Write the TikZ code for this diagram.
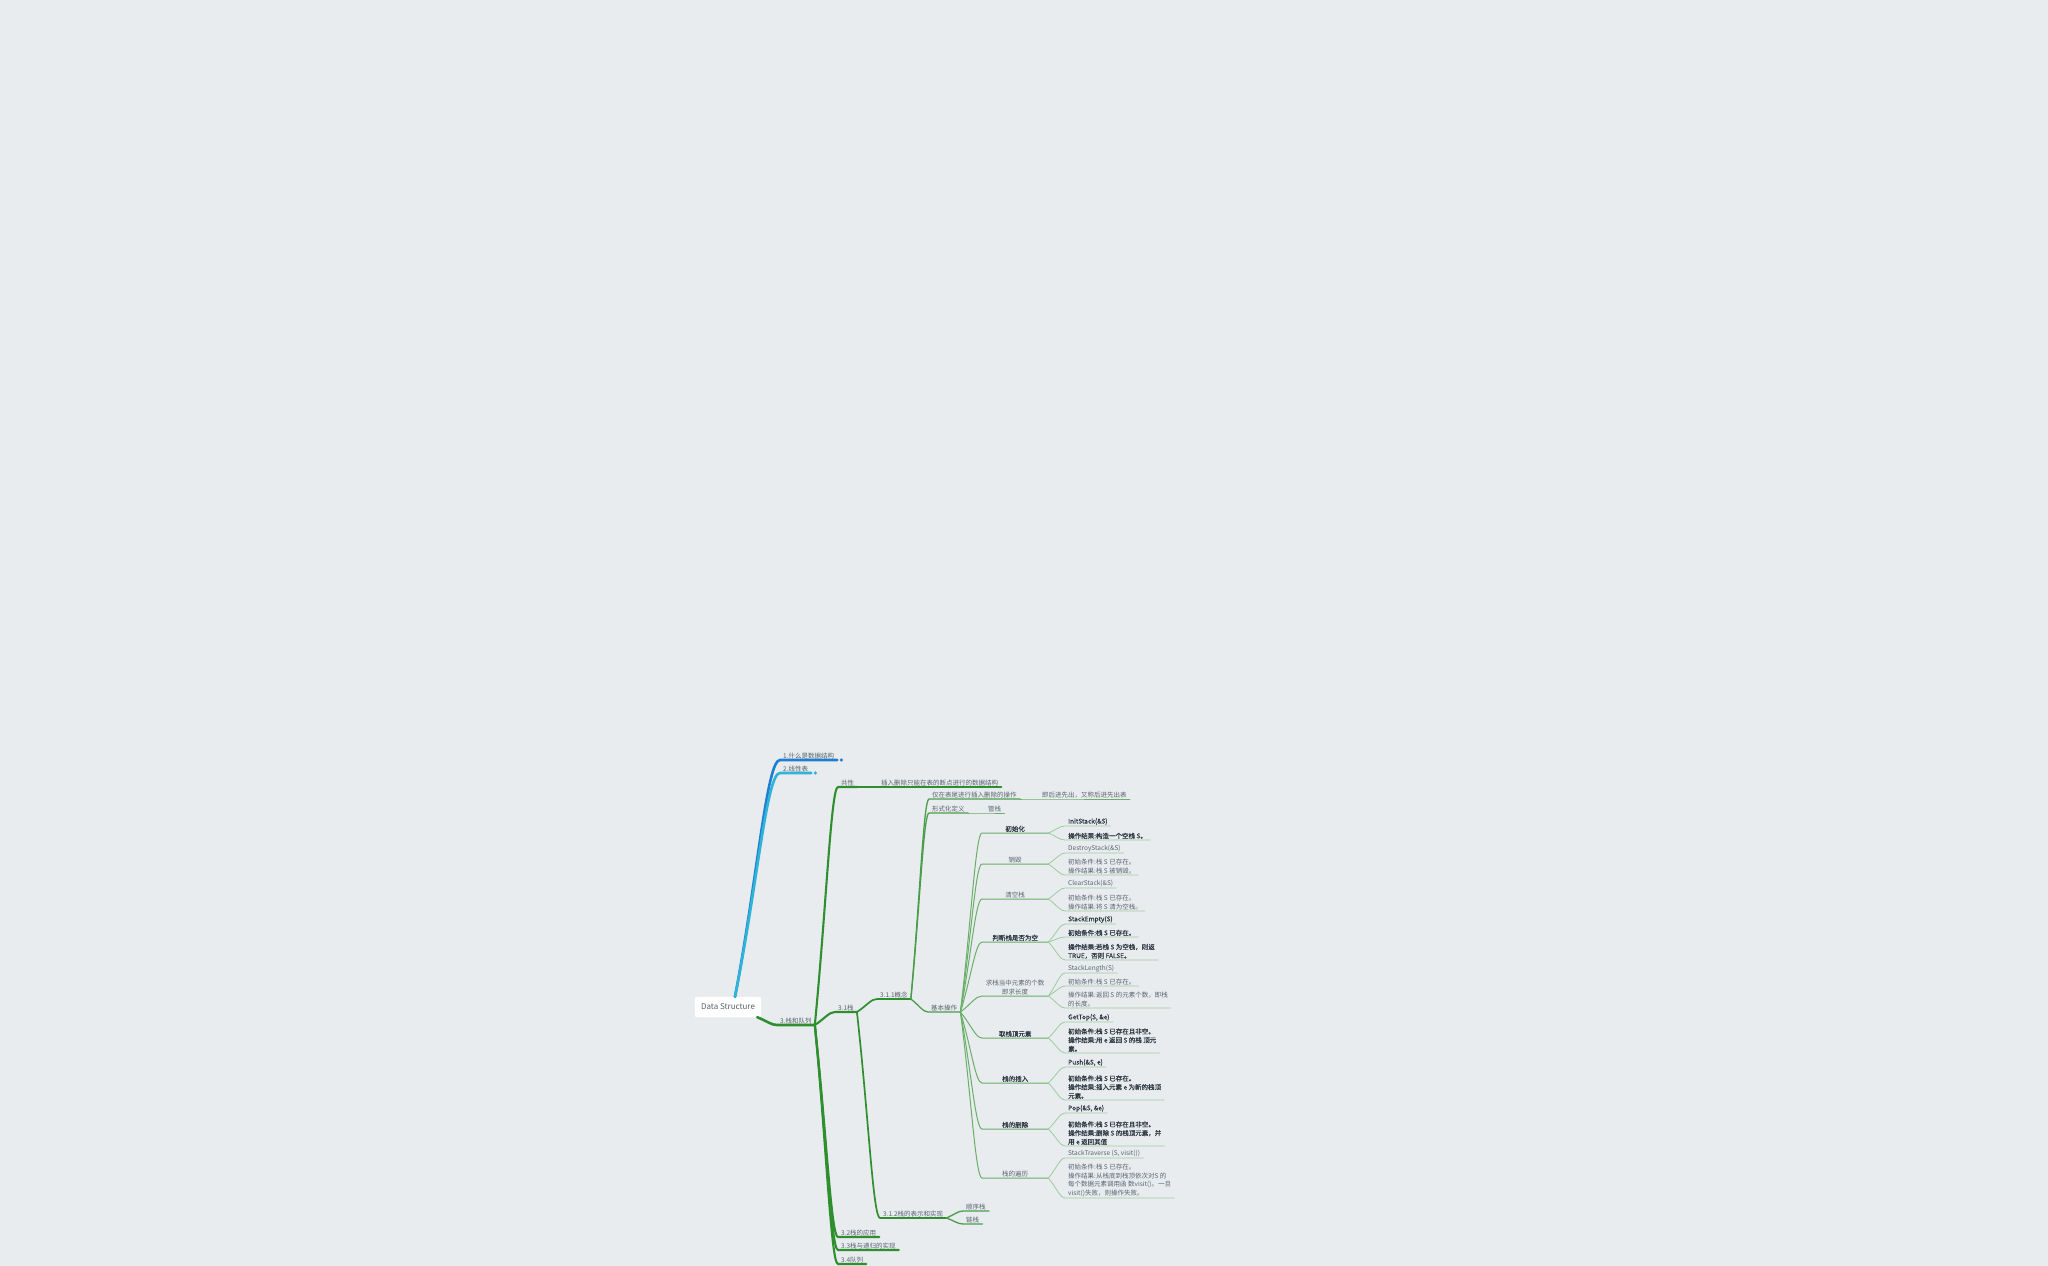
\documentclass[tikz,border=0pt]{standalone}
\usepackage{fontspec}
\setmainfont{Noto Sans CJK SC}
\newfontfamily\halfbold{Noto Sans CJK SC}[FakeBold=0.6]
\usetikzlibrary{calc}

\definecolor{bgcol}{HTML}{E8ECEF}
\definecolor{blueA}{HTML}{1E7FD0}
\definecolor{blueB}{HTML}{2FB3D9}
\definecolor{greenA}{HTML}{2F8F2F}
\definecolor{greenB}{HTML}{4A9E4A}
\definecolor{greenC}{HTML}{6AAE6A}
\definecolor{greenD}{HTML}{9DCB9D}
\definecolor{txtgray}{HTML}{58636E}
\definecolor{txtdark}{HTML}{2E3842}

\begin{document}
\begin{tikzpicture}[
  x=1pt, y=-1pt,
  topic/.style={anchor=south west, inner xsep=3pt, inner ysep=1pt, align=left,
    text=txtgray, font=\fontsize{6.5}{8.7}\selectfont},
  strong/.style={topic, text=txtdark, font=\fontsize{6.5}{8.7}\selectfont\halfbold},
  opbox/.style={topic, minimum width=66pt, align=center},
  rootbox/.style={draw=white, fill=white, rounded corners=2pt, minimum width=66pt,
    minimum height=20pt, text=txtgray, font=\fontsize{8}{9}\selectfont},
  branch/.style={to path={.. controls ($(\tikztostart)!0.5!(\tikztotarget)$)
    and ($(\tikztotarget)!0.3!(\tikztostart |- \tikztotarget)$) .. (\tikztotarget)}},
  mainline/.style={branch, line width=2.6pt, line cap=round},
  lvltwo/.style={branch, draw=greenA, line width=2.1pt, line cap=round},
  lvlthree/.style={branch, draw=greenA, line width=1.7pt, line cap=round},
  lvlfour/.style={branch, draw=greenB, line width=1.3pt, line cap=round},
  lvlfive/.style={branch, draw=greenC, line width=1pt, line cap=round},
  leafline/.style={branch, draw=greenD, line width=0.8pt, line cap=round}
]
\useasboundingbox[fill=bgcol] (0,0) rectangle (2048,1266);

% Root
\node[rootbox] (root) at (728,1007) {Data Structure};
\coordinate (roottop) at ([xshift=7pt]root.north);
\coordinate (rootout) at ([xshift=-4pt]root.south east);

% 1. First level
\node[topic] (what) at (780,760) {1.什么是数据结构};
\node[topic] (linear) at (780,773) {2.线性表};
\node[topic] (stackqueue) at (777,1025) {3.栈和队列};

% 2. Stack and queue
\node[topic] (common) at (838,787) {共性};
\node[topic] (stack) at (835,1012) {3.1栈};
\node[topic] (app) at (838,1237) {3.2栈的应用};
\node[topic] (recur) at (838,1250) {3.3栈与递归的实现};
\node[topic] (queue) at (838,1264) {3.4队列};

\node[topic] (endpoint) at (878,787) {插入删除只能在表的断点进行的数据结构};
\node[topic] (concept) at (877,999) {3.1.1概念};
\node[topic] (impl) at (880,1218) {3.1.2栈的表示和实现};

% 3. Concept
\node[topic] (tailop) at (929,799) {仅在表尾进行插入删除的操作};
\node[topic] (lifo) at (1039,799) {即后进先出，又称后进先出表};
\node[topic] (formal) at (929,813) {形式化定义};
\node[topic] (tube) at (985,813) {管栈};
\node[topic] (basic) at (928,1012) {基本操作};
\node[topic] (seqstack) at (963,1211) {顺序栈};
\node[topic] (linkstack) at (963,1224) {链栈};

% 4. Basic operations
\node[opbox, strong] (init) at (982,833) {初始化};
\node[opbox] (destroy) at (982,864) {销毁};
\node[opbox] (clear) at (982,899) {清空栈};
\node[opbox, strong] (isempty) at (982,942) {判断栈是否为空};
\node[opbox] (length) at (982,996) {求栈当中元素的个数\\即求长度};
\node[opbox, strong] (gettop) at (982,1038) {取栈顶元素};
\node[opbox, strong] (push) at (982,1083) {栈的插入};
\node[opbox, strong] (pop) at (982,1129) {栈的删除};
\node[opbox] (travel) at (982,1178) {栈的遍历};

% 5. Operation details
\node[strong] (initfn) at (1065,826) {InitStack(\&S)};
\node[strong] (initres) at (1065,840) {操作结果:构造一个空栈 S。};
\node[topic] (destroyfn) at (1065,853) {DestroyStack(\&S)};
\node[topic] (destroyres) at (1065,875) {初始条件:栈 S 已存在。\\操作结果:栈 S 被销毁。};
\node[topic] (clearfn) at (1065,888) {ClearStack(\&S)};
\node[topic] (clearres) at (1065,911) {初始条件:栈 S 已存在。\\操作结果:将 S 清为空栈。};
\node[strong] (emptyfn) at (1065,924) {StackEmpty(S)};
\node[strong] (emptypre) at (1065,937) {初始条件:栈 S 已存在。};
\node[strong] (emptyres) at (1065,960) {操作结果:若栈 S 为空栈，则返\\TRUE，否则 FALSE。};
\node[topic] (lengthfn) at (1065,973) {StackLength(S)};
\node[topic] (lengthpre) at (1065,986) {初始条件:栈 S 已存在。};
\node[topic] (lengthres) at (1065,1008) {操作结果:返回 S 的元素个数，即栈\\的长度。};
\node[strong] (topfn) at (1065,1022) {GetTop(S, \&e)};
\node[strong] (topres) at (1065,1053) {初始条件:栈 S 已存在且非空。\\操作结果:用 e 返回 S 的栈 顶元\\素。};
\node[strong] (pushfn) at (1065,1067) {Push(\&S, e)};
\node[strong] (pushres) at (1065,1100) {初始条件:栈 S 已存在。\\操作结果:插入元素 e 为新的栈顶\\元素。};
\node[strong] (popfn) at (1065,1113) {Pop(\&S, \&e)};
\node[strong] (popres) at (1065,1146) {初始条件:栈 S 已存在且非空。\\操作结果:删除 S 的栈顶元素，并\\用 e 返回其值};
\node[topic] (travfn) at (1065,1158) {StackTraverse (S, visit())};
\node[topic] (travres) at (1065,1198) {初始条件:栈 S 已存在。\\操作结果:从栈底到栈顶依次对S 的\\每个数据元素调用函 数visit()。一旦\\visit()失败，则操作失败。};

% Connectors
\draw[mainline, draw=blueA] (roottop) to (what.south west) -- (what.south east);
\fill[blueA] ([xshift=4pt]what.south east) circle (1.8pt);
\draw[mainline, draw=blueB] (roottop) to (linear.south west) -- (linear.south east);
\fill[blueB] ([xshift=4pt]linear.south east) circle (1.8pt);
\draw[mainline, draw=greenA] (rootout) to (stackqueue.south west) -- (stackqueue.south east);

\draw[lvltwo] (stackqueue.south east) to (common.south west) -- (common.south east);
\draw[lvltwo] (stackqueue.south east) to (stack.south west) -- (stack.south east);
\draw[lvltwo] (stackqueue.south east) to (app.south west) -- (app.south east);
\draw[lvltwo] (stackqueue.south east) to (recur.south west) -- (recur.south east);
\draw[lvltwo] (stackqueue.south east) to (queue.south west) -- (queue.south east);

\draw[lvlthree] (common.south east) to (endpoint.south west) -- (endpoint.south east);
\draw[lvlthree] (stack.south east) to (concept.south west) -- (concept.south east);
\draw[lvlthree] (stack.south east) to (impl.south west) -- (impl.south east);

\draw[lvlfour] (concept.south east) to (tailop.south west) -- (tailop.south east);
\draw[lvlfive] (tailop.south east) to (lifo.south west) -- (lifo.south east);
\draw[lvlfour] (concept.south east) to (formal.south west) -- (formal.south east);
\draw[lvlfive] (formal.south east) to (tube.south west) -- (tube.south east);
\draw[lvlfour] (concept.south east) to (basic.south west) -- (basic.south east);
\draw[lvlfour] (impl.south east) to (seqstack.south west) -- (seqstack.south east);
\draw[lvlfour] (impl.south east) to (linkstack.south west) -- (linkstack.south east);

\draw[lvlfive] (basic.south east) to (init.south west) -- (init.south east);
\draw[lvlfive] (basic.south east) to (destroy.south west) -- (destroy.south east);
\draw[lvlfive] (basic.south east) to (clear.south west) -- (clear.south east);
\draw[lvlfive] (basic.south east) to (isempty.south west) -- (isempty.south east);
\draw[lvlfive] (basic.south east) to (length.south west) -- (length.south east);
\draw[lvlfive] (basic.south east) to (gettop.south west) -- (gettop.south east);
\draw[lvlfive] (basic.south east) to (push.south west) -- (push.south east);
\draw[lvlfive] (basic.south east) to (pop.south west) -- (pop.south east);
\draw[lvlfive] (basic.south east) to (travel.south west) -- (travel.south east);

\draw[leafline] (init.south east) to (initfn.south west) -- (initfn.south east);
\draw[leafline] (init.south east) to (initres.south west) -- (initres.south east);
\draw[leafline] (destroy.south east) to (destroyfn.south west) -- (destroyfn.south east);
\draw[leafline] (destroy.south east) to (destroyres.south west) -- (destroyres.south east);
\draw[leafline] (clear.south east) to (clearfn.south west) -- (clearfn.south east);
\draw[leafline] (clear.south east) to (clearres.south west) -- (clearres.south east);
\draw[leafline] (isempty.south east) to (emptyfn.south west) -- (emptyfn.south east);
\draw[leafline] (isempty.south east) to (emptypre.south west) -- (emptypre.south east);
\draw[leafline] (isempty.south east) to (emptyres.south west) -- (emptyres.south east);
\draw[leafline] (length.south east) to (lengthfn.south west) -- (lengthfn.south east);
\draw[leafline] (length.south east) to (lengthpre.south west) -- (lengthpre.south east);
\draw[leafline] (length.south east) to (lengthres.south west) -- (lengthres.south east);
\draw[leafline] (gettop.south east) to (topfn.south west) -- (topfn.south east);
\draw[leafline] (gettop.south east) to (topres.south west) -- (topres.south east);
\draw[leafline] (push.south east) to (pushfn.south west) -- (pushfn.south east);
\draw[leafline] (push.south east) to (pushres.south west) -- (pushres.south east);
\draw[leafline] (pop.south east) to (popfn.south west) -- (popfn.south east);
\draw[leafline] (pop.south east) to (popres.south west) -- (popres.south east);
\draw[leafline] (travel.south east) to (travfn.south west) -- (travfn.south east);
\draw[leafline] (travel.south east) to (travres.south west) -- (travres.south east);

\end{tikzpicture}
\end{document}
